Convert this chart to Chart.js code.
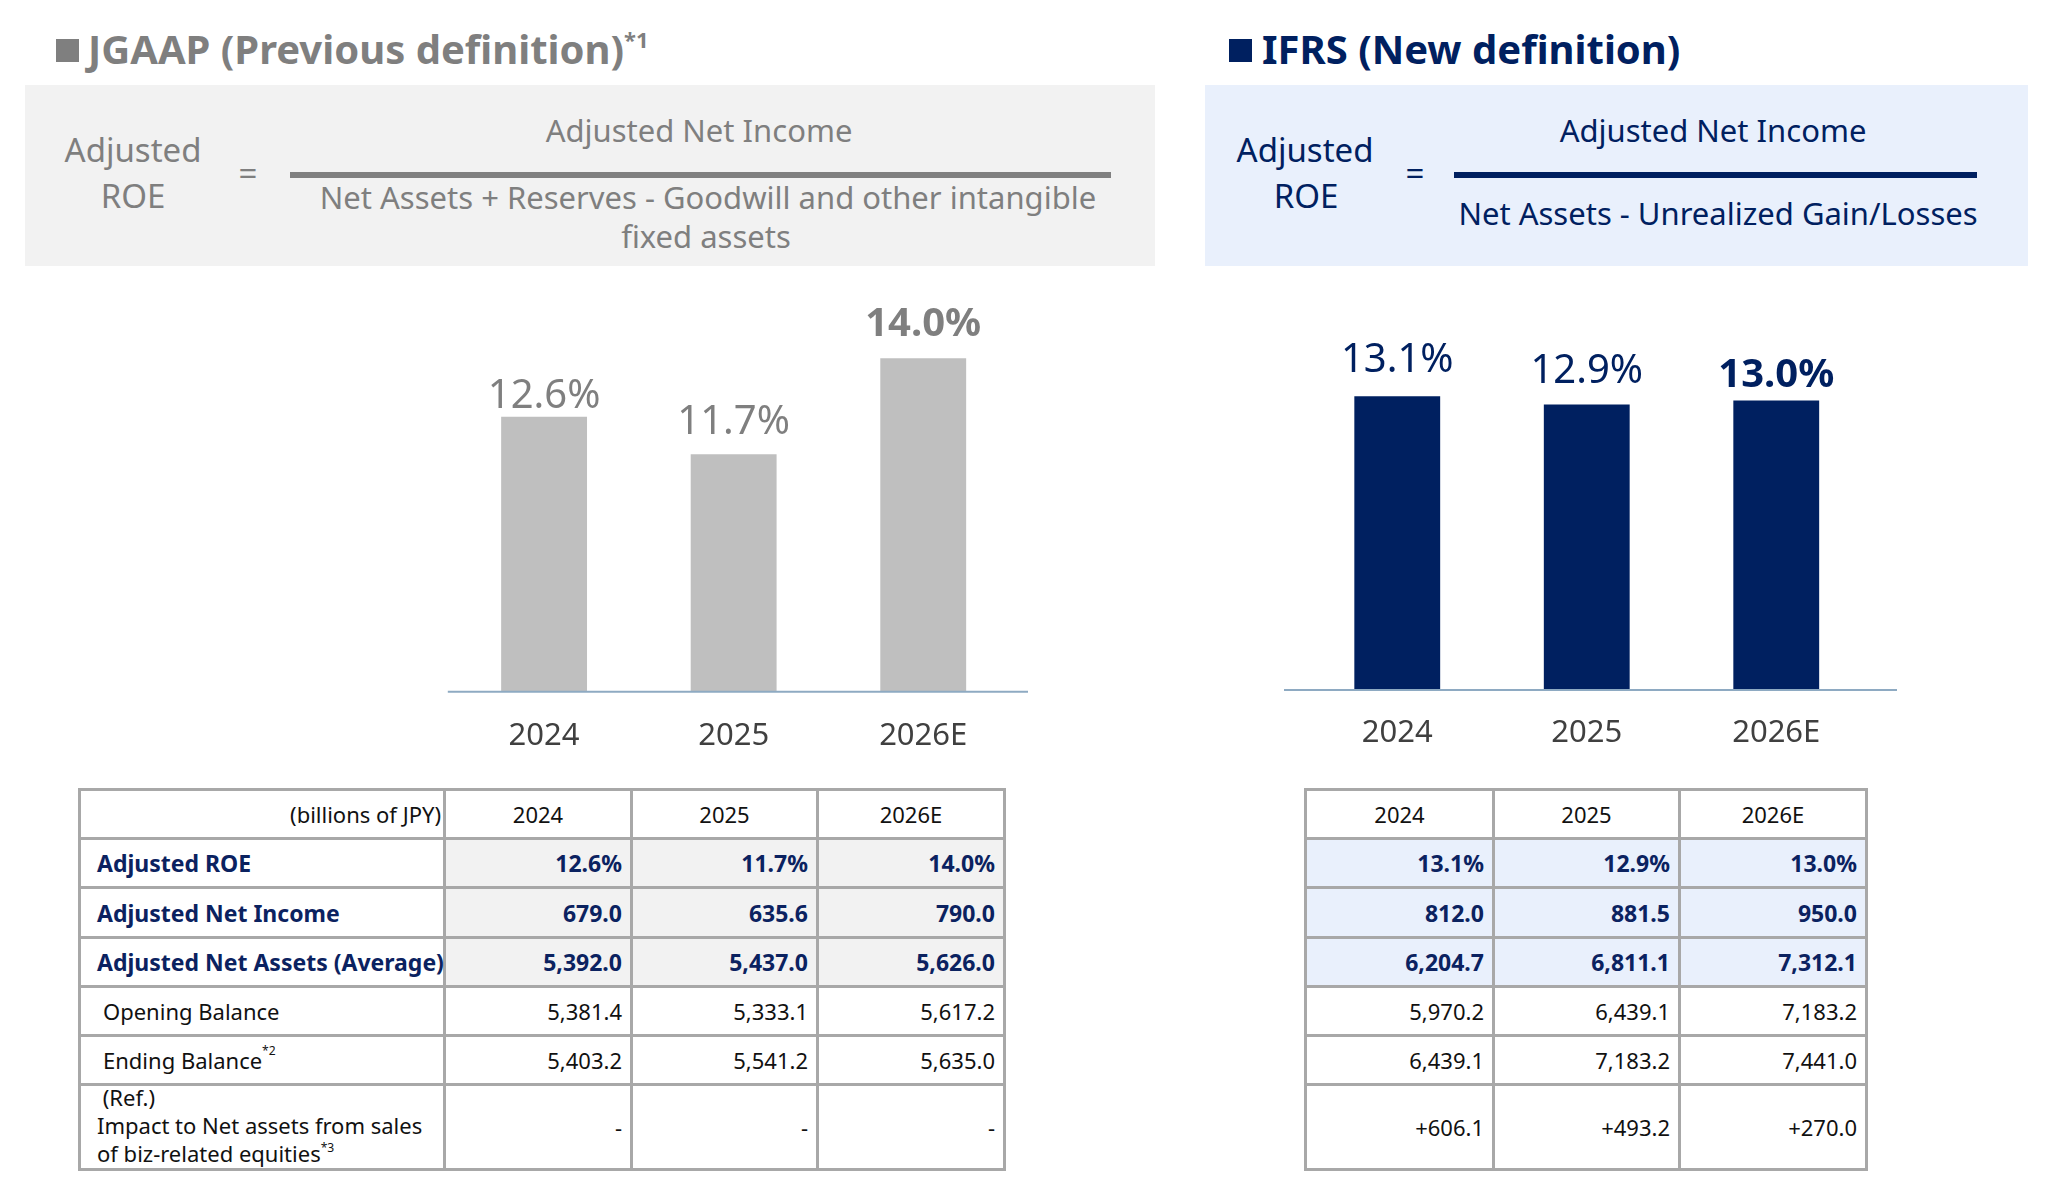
<!DOCTYPE html>
<html><head><meta charset="utf-8">
<script src="https://cdn.jsdelivr.net/npm/chart.js@4.4.1/dist/chart.umd.min.js"></script>
<style>
html,body{margin:0;padding:0;background:#fff;}
body{width:2048px;height:1196px;position:relative;overflow:hidden;font-family:"Noto Sans","Open Sans",sans-serif;}
.t{position:absolute;line-height:1;white-space:nowrap;}
.box{position:absolute;}
.grid{position:absolute;display:grid;gap:3px;padding:3px;background:#a8a8a8;}
.cell{background:#fff;display:flex;align-items:center;font-size:22px;color:#111;white-space:nowrap;overflow:visible;}
.cell.r{justify-content:flex-end;padding-right:8px;}
.cell.c{justify-content:center;}
.cell.l{justify-content:flex-start;padding-left:16px;}
.cell.b{font-weight:bold;color:#0b2260;font-size:23px;}
sup{font-size:0.55em;vertical-align:0;position:relative;top:-0.75em;}
canvas{position:absolute;}
</style>
</head><body>
<div id="root"></div>
<canvas id="cL" width="600" height="530" style="left:440px;top:250px;"></canvas>
<canvas id="cR" width="630" height="530" style="left:1280px;top:250px;"></canvas>
<script>
// ---------------- data ----------------
const categories = ['2024', '2025', '2026E'];
const jgaapRoe = [12.6, 11.7, 14.0];
const ifrsRoe = [13.1, 12.9, 13.0];
const jgaapNetIncome = [679.0, 635.6, 790.0];
const jgaapNetAssetsAvg = [5392.0, 5437.0, 5626.0];
const jgaapOpening = [5381.4, 5333.1, 5617.2];
const jgaapEnding = [5403.2, 5541.2, 5635.0];
const jgaapImpact = [null, null, null];
const ifrsNetIncome = [812.0, 881.5, 950.0];
const ifrsNetAssetsAvg = [6204.7, 6811.1, 7312.1];
const ifrsOpening = [5970.2, 6439.1, 7183.2];
const ifrsEnding = [6439.1, 7183.2, 7441.0];
const ifrsImpact = [606.1, 493.2, 270.0];
const rowLabels = ['Adjusted ROE', 'Adjusted Net Income', 'Adjusted Net Assets (Average)', 'Opening Balance', 'Ending Balance', 'Impact to Net assets from sales'];
const unitLabel = '(billions of JPY)';

// ---------------- helpers ----------------
const root = document.getElementById('root');
const FONT = '"Noto Sans","Open Sans",sans-serif';
function txt(str, x, base, size, opt = {}) {
  const d = document.createElement('div');
  d.className = 't';
  d.innerHTML = str;
  d.style.fontSize = size + 'px';
  d.style.fontWeight = opt.bold ? 'bold' : 'normal';
  d.style.color = opt.color || '#000';
  d.style.top = (base - 0.888 * size) + 'px';
  d.style.left = x + 'px';
  const a = opt.align || 'left';
  d.style.transform = a === 'center' ? 'translateX(-50%)' : a === 'right' ? 'translateX(-100%)' : '';
  root.appendChild(d);
  return d;
}
function rect(x, y, w, h, c) {
  const d = document.createElement('div');
  d.className = 'box';
  Object.assign(d.style, {left: x + 'px', top: y + 'px', width: w + 'px', height: h + 'px', background: c});
  root.appendChild(d);
  return d;
}
const fmt = v => v.toLocaleString('en-US', {minimumFractionDigits: 1, maximumFractionDigits: 1});
const pct = v => v.toFixed(1) + '%';

// ---------------- headers & formula boxes ----------------
const GRAY = '#7f7f7f', NAVY = '#002060';
rect(56, 39, 23, 23, GRAY);
txt('JGAAP (Previous definition)<sup>*1</sup>', 88, 65, 40, {bold: true, color: GRAY});
rect(1229, 39, 23, 23, NAVY);
txt('IFRS (New definition)', 1262, 65, 40, {bold: true, color: NAVY});

rect(25, 85, 1130, 181, '#f2f2f2');
txt('Adjusted', 133, 162, 33, {color: GRAY, align: 'center'});
txt('ROE', 133, 208, 33, {color: GRAY, align: 'center'});
txt('=', 248, 185, 33, {color: GRAY, align: 'center'});
rect(290, 172, 821, 6, '#808080');
txt('Adjusted Net Income', 699, 143, 31, {color: GRAY, align: 'center'});
txt('Net Assets + Reserves - Goodwill and other intangible', 708, 210, 31, {color: GRAY, align: 'center'});
txt('fixed assets', 706, 249, 31, {color: GRAY, align: 'center'});

rect(1205, 85, 823, 181, '#e9f0fc');
txt('Adjusted', 1305, 162, 33, {color: NAVY, align: 'center'});
txt('ROE', 1306, 208, 33, {color: NAVY, align: 'center'});
txt('=', 1415, 185, 33, {color: NAVY, align: 'center'});
rect(1454, 172, 523, 6, NAVY);
txt('Adjusted Net Income', 1713, 143, 31, {color: NAVY, align: 'center'});
txt('Net Assets - Unrealized Gain/Losses', 1718, 226, 31, {color: NAVY, align: 'center'});

// ---------------- charts ----------------
const valueLabels = {
  id: 'valueLabels',
  afterDatasetsDraw(chart, args, o) {
    const ctx = chart.ctx;
    const ds = chart.data.datasets[0];
    chart.getDatasetMeta(0).data.forEach((bar, i) => {
      ctx.save();
      ctx.font = (i === o.boldIndex ? 'bold ' : '') + o.size + 'px ' + FONT;
      ctx.fillStyle = o.color;
      ctx.textAlign = 'center';
      ctx.textBaseline = 'alphabetic';
      ctx.fillText(pct(ds.data[i]), bar.x, bar.y - o.offsets[i]);
      ctx.restore();
    });
  }
};
const axisLine = {
  id: 'axisLine',
  afterDatasetsDraw(chart, args, o) {
    const {ctx, chartArea: a} = chart;
    ctx.save();
    ctx.strokeStyle = o.color;
    ctx.lineWidth = 2;
    ctx.beginPath();
    ctx.moveTo(a.left - o.extL, a.bottom);
    ctx.lineTo(a.right + o.extR, a.bottom);
    ctx.stroke();
    ctx.restore();
  }
};
function makeChart(id, values, barColor, labelColor, yMin, yMax, pad, axisH, ext, offsets, tickPad) {
  return new Chart(document.getElementById(id), {
    type: 'bar',
    data: {labels: categories, datasets: [{data: values, backgroundColor: barColor, barPercentage: 0.453, categoryPercentage: 1}]},
    options: {
      responsive: false, animation: false, devicePixelRatio: 1,
      layout: {padding: pad},
      plugins: {legend: {display: false}, tooltip: {enabled: false},
        valueLabels: {size: 40, color: labelColor, boldIndex: 2, offsets: offsets},
        axisLine: {color: '#8eaac2', extL: ext[0], extR: ext[1]}},
      scales: {
        x: {grid: {display: false, drawTicks: false}, border: {display: false},
            ticks: {font: {family: FONT, size: 31}, color: '#404040', padding: tickPad},
            afterFit(s) { s.height = axisH; }},
        y: {display: false, min: yMin, max: yMax}
      }
    },
    plugins: [valueLabels, axisLine]
  });
}
makeChart('cL', jgaapRoe, '#bfbfbf', '#7f7f7f', 6, 15, {top: 66.7, left: 9.3, right: 22, bottom: 0}, 88.3, [1.5, 10], [9, 20, 22], 26);
makeChart('cR', ifrsRoe, '#002060', '#002060', 6.05, 15.05, {top: 65, left: 22.5, right: 39, bottom: 0}, 90, [18.5, 26], [24, 22, 13], 25);

// ---------------- tables ----------------
const rowH = [46, 46, 47, 46, 46, 46, 82];
function buildTable(left, top, colW, header, rows, withLabels, valueBg) {
  const g = document.createElement('div');
  g.className = 'grid';
  g.style.left = left + 'px'; g.style.top = top + 'px';
  g.style.gridTemplateColumns = colW.map(w => w + 'px').join(' ');
  g.style.gridTemplateRows = rowH.map(h => h + 'px').join(' ');
  header.forEach((h, i) => {
    const c = document.createElement('div');
    c.className = 'cell ' + (withLabels && i === 0 ? 'r' : 'c');
    if (withLabels && i === 0) c.style.paddingRight = '2px';
    c.innerHTML = h;
    g.appendChild(c);
  });
  rows.forEach((r, ri) => {
    r.cells.forEach((v, ci) => {
      const c = document.createElement('div');
      const isLabel = withLabels && ci === 0;
      c.className = 'cell ' + (isLabel ? 'l' : 'r') + (r.bold ? ' b' : '');
      if (!isLabel && r.bold) c.style.background = valueBg;
      if (isLabel && !r.bold) c.style.paddingLeft = '22px';
      c.innerHTML = v;
      g.appendChild(c);
    });
  });
  root.appendChild(g);
}
const dash = v => v === null ? '-' : '+' + fmt(v);
buildTable(78, 788, [362, 184, 183, 184], [unitLabel, ...categories], [
  {bold: true, cells: [rowLabels[0], ...jgaapRoe.map(pct)]},
  {bold: true, cells: [rowLabels[1], ...jgaapNetIncome.map(fmt)]},
  {bold: true, cells: [rowLabels[2], ...jgaapNetAssetsAvg.map(fmt)]},
  {cells: [rowLabels[3], ...jgaapOpening.map(fmt)]},
  {cells: [rowLabels[4] + '<sup>*2</sup>', ...jgaapEnding.map(fmt)]},
  {cells: ['<div style="line-height:28px;margin-left:-6px">&nbsp;(Ref.)<br>' + rowLabels[5] + '<br>of biz-related equities<sup>*3</sup></div>', ...jgaapImpact.map(dash)]}
], true, '#f2f2f2');
buildTable(1304, 788, [185, 183, 184], categories, [
  {bold: true, cells: ifrsRoe.map(pct)},
  {bold: true, cells: ifrsNetIncome.map(fmt)},
  {bold: true, cells: ifrsNetAssetsAvg.map(fmt)},
  {cells: ifrsOpening.map(fmt)},
  {cells: ifrsEnding.map(fmt)},
  {cells: ifrsImpact.map(dash)}
], false, '#e9f0fc');
</script>
</body></html>
